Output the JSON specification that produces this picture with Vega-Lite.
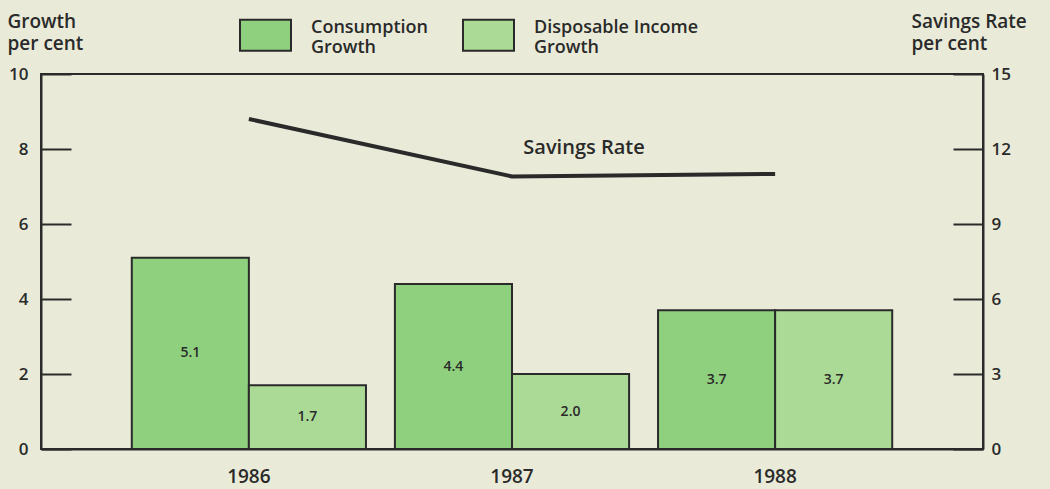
{
  "$schema": "https://vega.github.io/schema/vega-lite/v6.json",
  "width": 942,
  "height": 375,
  "autosize": "none",
  "padding": {"left": 41, "top": 74, "right": 67, "bottom": 40},
  "background": "#e9ebd8",
  "config": {
    "font": "Open Sans",
    "view": {"stroke": "#2a2a2a", "strokeWidth": 2},
    "axis": {
      "domainColor": "#2a2a2a",
      "domainWidth": 2,
      "tickColor": "#2a2a2a",
      "tickWidth": 2,
      "labelColor": "#2a2a2a",
      "labelFont": "Open Sans",
      "labelFontWeight": 600,
      "labelFontSize": 17,
      "labelFlush": false,
      "titleFont": "Open Sans",
      "titleFontWeight": 600,
      "titleFontSize": 19,
      "titleColor": "#2a2a2a",
      "grid": false
    },
    "legend": {
      "labelFont": "Open Sans"
    }
  },
  "datasets": {
    "growth": [
      {"year": "1986", "series": "Consumption Growth", "value": 5.1},
      {"year": "1986", "series": "Disposable Income Growth", "value": 1.7},
      {"year": "1987", "series": "Consumption Growth", "value": 4.4},
      {"year": "1987", "series": "Disposable Income Growth", "value": 2.0},
      {"year": "1988", "series": "Consumption Growth", "value": 3.7},
      {"year": "1988", "series": "Disposable Income Growth", "value": 3.7}
    ],
    "savings": [
      {"year": "1986", "rate": 13.2},
      {"year": "1987", "rate": 10.9},
      {"year": "1988", "rate": 11.0}
    ]
  },
  "layer": [
    {
      "data": {"name": "growth"},
      "mark": {"type": "bar", "stroke": "#2a2a2a", "strokeWidth": 2, "opacity": 1},
      "encoding": {
        "x": {
          "field": "year", "type": "nominal",
          "scale": {"paddingInner": 0.11, "paddingOuter": 0.345},
          "axis": {"title": null, "ticks": false, "labelPadding": 18, "labelAngle": 0, "labelFontSize": 19}
        },
        "xOffset": {"field": "series", "type": "nominal", "scale": {"paddingInner": 0, "paddingOuter": 0}},
        "y": {
          "field": "value", "type": "quantitative",
          "scale": {"domain": [0, 10], "nice": false, "zero": true},
          "axis": {
            "orient": "left",
            "values": [0, 2, 4, 6, 8, 10],
            "tickSize": -30,
            "labelPadding": 43,
            "labelAlign": "right",
            "title": ["Growth", "per cent"],
            "titleAngle": 0,
            "titleAlign": "left",
            "titleBaseline": "top",
            "titleLineHeight": 22.5,
            "titleX": -34,
            "titleY": -62
          }
        },
        "color": {
          "field": "series", "type": "nominal",
          "scale": {"domain": ["Consumption Growth", "Disposable Income Growth"], "range": ["#8fd07e", "#abda96"]},
          "legend": {
            "title": null,
            "orient": "none",
            "direction": "horizontal",
            "legendX": 208,
            "legendY": -63,
            "padding": 0,
            "columnPadding": 31,
            "symbolType": "M-1.645,-0.516L1.645,-0.516L1.645,1.484L-1.645,1.484Z",
            "symbolSize": 961,
            "symbolStrokeColor": "#2a2a2a",
            "symbolStrokeWidth": 2,
            "symbolOpacity": 1,
            "labelOffset": 29,
            "labelFontSize": 18,
            "labelFontWeight": 600,
            "labelColor": "#2a2a2a",
            "labelLineHeight": 19.5,
            "labelBaseline": "middle",
            "labelLimit": 300,
            "labelExpr": "datum.label == 'Consumption Growth' ? ['Consumption', 'Growth'] : ['Disposable Income', 'Growth']"
          }
        }
      }
    },
    {
      "data": {"name": "growth"},
      "mark": {"type": "text", "fontSize": 14, "fontWeight": 600, "color": "#2a2a2a", "baseline": "middle"},
      "encoding": {
        "x": {"field": "year", "type": "nominal"},
        "xOffset": {"field": "series", "type": "nominal"},
        "y": {"field": "value", "type": "quantitative", "scale": {"domain": [0, 20], "nice": false}, "axis": null},
        "text": {"field": "value", "type": "quantitative", "format": ".1f"}
      }
    },
    {
      "data": {"name": "savings"},
      "encoding": {
        "x": {"field": "year", "type": "nominal"},
        "y": {
          "field": "rate", "type": "quantitative",
          "scale": {"domain": [0, 15], "nice": false},
          "axis": {
            "orient": "right",
            "values": [0, 3, 6, 9, 12, 15],
            "tickSize": -30,
            "labelPadding": 38,
            "labelAlign": "left",
            "title": ["Savings Rate", "per cent"],
            "titleAngle": 0,
            "titleAlign": "left",
            "titleBaseline": "top",
            "titleLineHeight": 22.5,
            "titleX": -72,
            "titleY": -62
          }
        }
      },
      "layer": [
        {"mark": {"type": "line", "color": "#2a2a2a", "strokeWidth": 4}},
        {
          "transform": [{"filter": "datum.year == '1987'"}],
          "mark": {"type": "text", "fontSize": 20, "fontWeight": 600, "color": "#2a2a2a", "dx": 72, "dy": -29, "baseline": "middle", "align": "center"},
          "encoding": {"text": {"value": "Savings Rate"}}
        }
      ]
    }
  ],
  "resolve": {"scale": {"y": "independent"}, "axis": {"y": "independent"}}
}
